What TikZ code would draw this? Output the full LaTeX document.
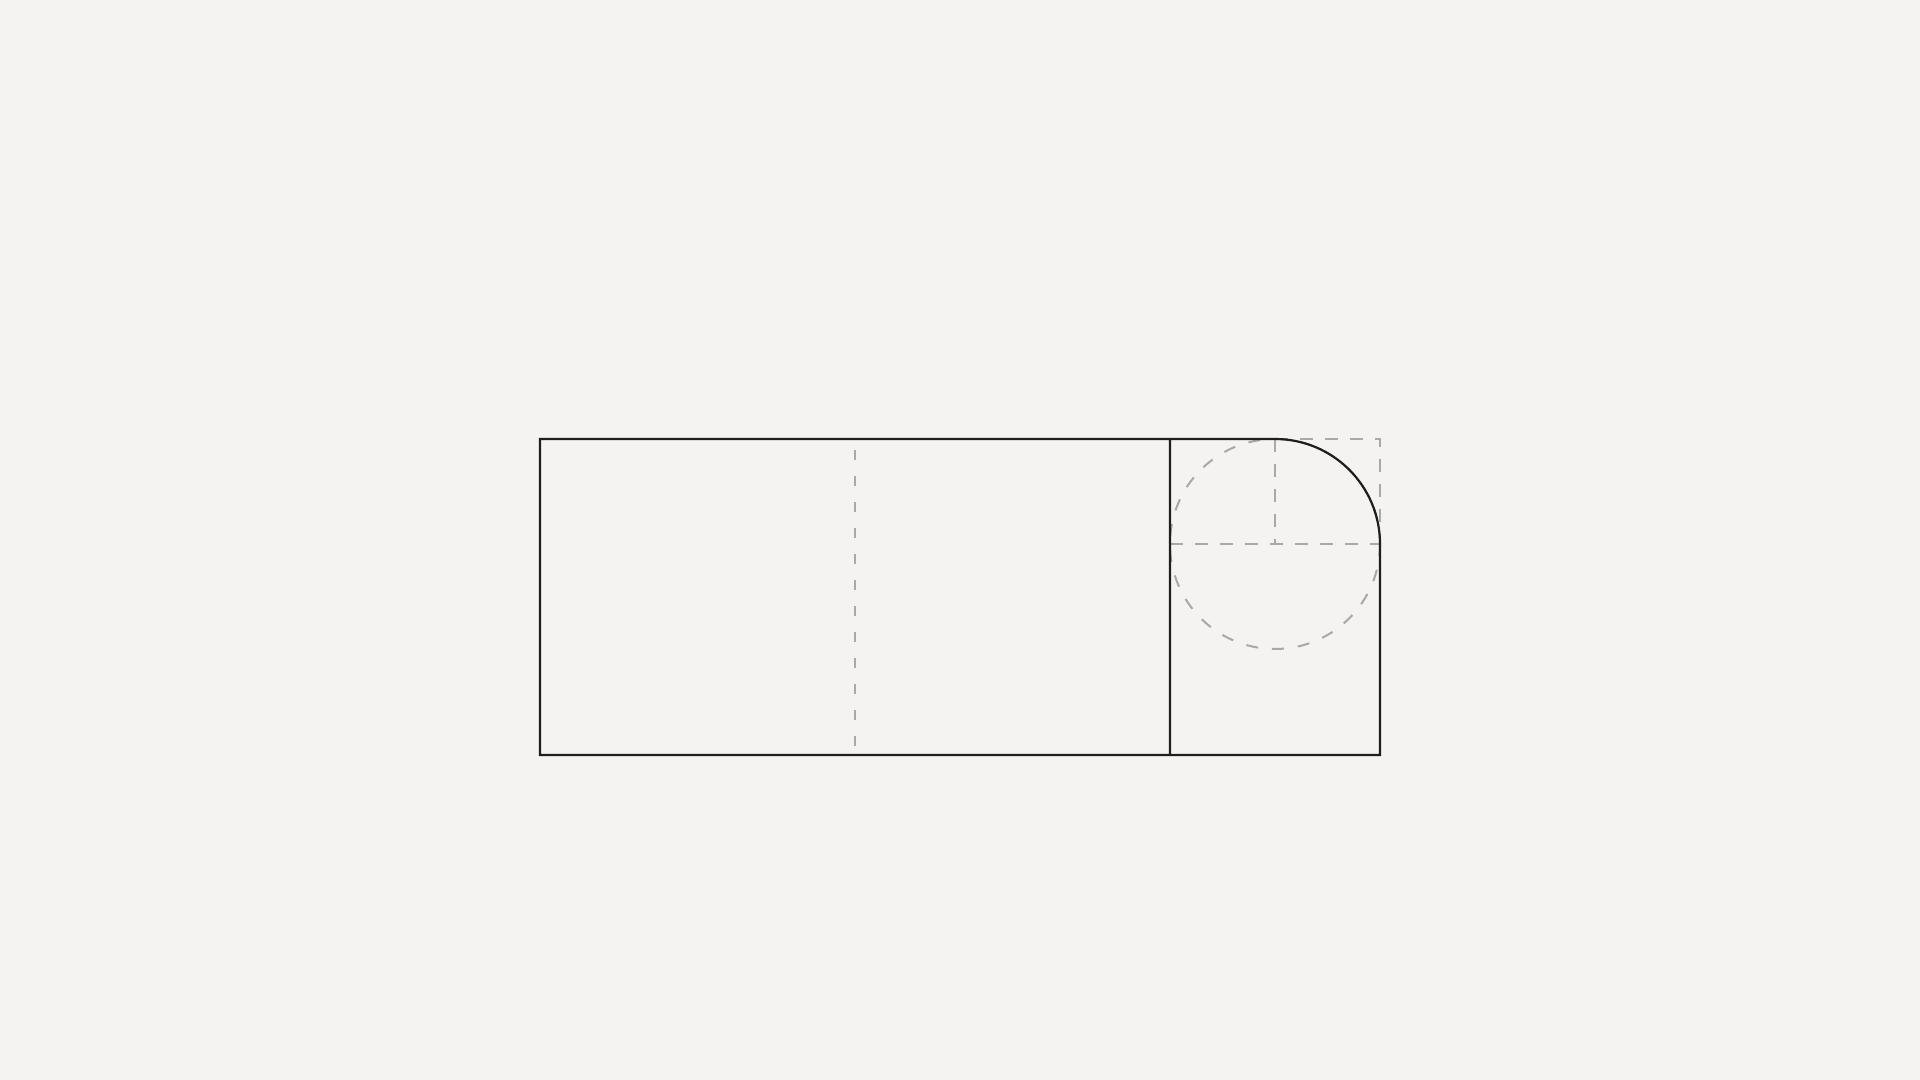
\documentclass[tikz,border=0pt]{standalone}
\usepackage{xcolor}
\usetikzlibrary{calc}
\definecolor{paper}{HTML}{F4F3F1}
\definecolor{ink}{HTML}{1E1E1E}
\definecolor{guide}{HTML}{A8A8A8}
\tikzset{
	outline/.style={draw=ink, line width=1.1pt},
	guideline/.style={draw=guide, line width=1pt, dash pattern=on 6.5pt off 6pt},
	midline/.style={draw=guide, line width=1pt, dash pattern=on 5pt off 8pt},
	guidecircle/.style={draw=guide, line width=1pt, dash pattern=on 6pt off 7pt}
}
\begin{document}
\begin{tikzpicture}[x=0.5pt, y=-0.5pt]

			\fill[paper] (0,0) rectangle (1920,1080);
			\useasboundingbox (0,0) rectangle (1920,1080);

			% Corners of the block
			\coordinate (tl) at (540,439);
			\coordinate (bl) at (540,755);
			\coordinate (sm) at (1170,439);
			\coordinate (sb) at (1170,755);
			\coordinate (ctr) at (1275,544);
			\coordinate (tc) at (1275,439);
			\coordinate (tr) at (1380,439);
			\coordinate (rm) at (1380,544);
			\coordinate (br) at (1380,755);
			\coordinate (lm) at (1170,544);

			% Guides
			\draw[midline] (855,450) -- (855,748);
			\draw[guideline] (tc) -- (tr) -- (rm);
			\draw[guideline] (tc) -- (ctr);
			\draw[guideline] (lm) -- (rm);
			\draw[guidecircle] (ctr) circle (105);

			% Outline with the rounded corner
			\draw[outline] (sm) -- (tl) -- (bl) -- (br) -- (rm) arc[start angle=0, end angle=-90, radius=105] -- (sm) -- (sb);

		\end{tikzpicture}
\end{document}
